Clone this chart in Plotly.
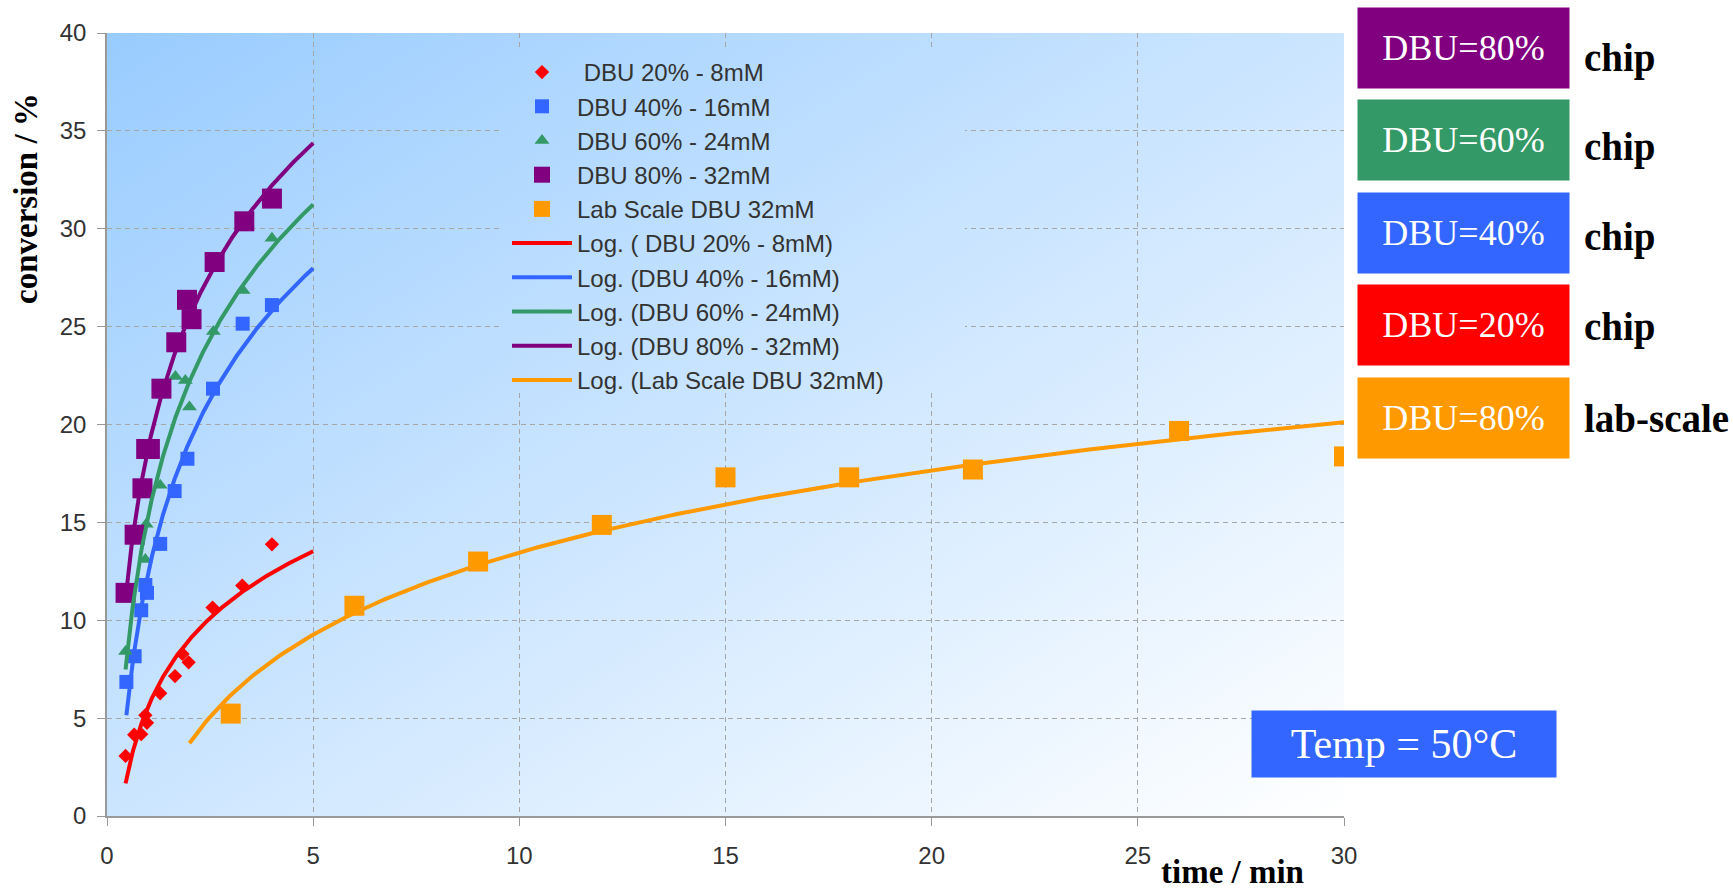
import base64
import numpy as np
import plotly.graph_objects as go

# ---- measured data: residence time (min) vs conversion (%) ----
t_dbu20 = [0.45, 0.66, 0.83, 0.93, 0.97, 1.29, 1.65, 1.83, 1.98, 2.56, 3.28, 4.0]
c_dbu20 = [3.07, 4.15, 4.18, 5.15, 4.76, 6.27, 7.15, 8.28, 7.85, 10.65, 11.77, 13.88]

t_dbu40 = [0.47, 0.67, 0.83, 0.93, 0.97, 1.29, 1.64, 1.95, 2.57, 3.29, 4.0]
c_dbu40 = [6.85, 8.16, 10.51, 11.8, 11.4, 13.9, 16.6, 18.25, 21.83, 25.15, 26.1]

t_dbu60 = [0.45, 0.93, 0.95, 1.29, 1.66, 1.90, 2.0, 2.58, 3.30, 4.0]
c_dbu60 = [8.4, 13.1, 14.9, 16.9, 22.45, 22.25, 20.9, 24.75, 26.84, 29.52]

t_dbu80 = [0.45, 0.67, 0.86, 0.95, 1.04, 1.32, 1.68, 1.94, 2.05, 2.61, 3.33, 4.0]
c_dbu80 = [11.4, 14.37, 16.74, 18.75, 18.75, 21.83, 24.2, 26.37, 25.38, 28.3, 30.38, 31.54]

t_lab = [3, 6, 9, 12, 15, 18, 21, 26, 30]
c_lab = [5.23, 10.74, 13.0, 14.87, 17.3, 17.3, 17.7, 19.67, 18.37]

series_names = ["\u00a0DBU 20% - 8mM", "DBU 40% - 16mM", "DBU 60% - 24mM",
                "DBU 80% - 32mM", "Lab Scale DBU 32mM"]
trend_names = ["Log. ( DBU 20% - 8mM)", "Log. (DBU 40% - 16mM)", "Log. (DBU 60% - 24mM)",
               "Log. (DBU 80% - 32mM)", "Log. (Lab Scale DBU 32mM)"]
# trendline forecast (forward, backward) in minutes
forecasts = [(1.0, 0.0), (1.0, 0.0), (1.0, 0.0), (1.0, 0.0), (0.0, 1.0)]

box_labels = ["DBU=80%", "DBU=60%", "DBU=40%", "DBU=20%", "DBU=80%"]
box_notes = ["chip", "chip", "chip", "chip", "lab-scale"]

x_ticks = [0, 5, 10, 15, 20, 25, 30]
y_ticks = [0, 5, 10, 15, 20, 25, 30, 35, 40]

# ---- styling ----
colors = ["#FF0000", "#3366FF", "#339966", "#800080", "#FF9900"]
symbols = ["diamond", "square", "triangle-up", "square", "square"]
sizes = [11, 14, 13, 20, 20]
box_colors = ["#800080", "#339966", "#3366FF", "#FF0000", "#FF9900"]

W, H = 1733, 892
L, R, T, B = 107, 389, 33, 76
PW, PH = W - L - R, H - T - B


def px(xp):
    return (xp - L) / PW


def py(yp):
    return (H - B - yp) / PH


SANS = "Arial, Liberation Sans, sans-serif"
SERIF = "Times New Roman, Liberation Serif, serif"

datasets = [(t_dbu20, c_dbu20), (t_dbu40, c_dbu40), (t_dbu60, c_dbu60),
            (t_dbu80, c_dbu80), (t_lab, c_lab)]

fig = go.Figure()

for (t, c), name, col, sym, sz in zip(datasets, series_names, colors, symbols, sizes):
    fig.add_trace(go.Scatter(
        x=t, y=c, mode="markers", name=name,
        marker=dict(color=col, symbol=sym, size=sz, line=dict(width=0)),
    ))

# logarithmic least-squares trendlines  y = a ln(t) + b
for (t, c), name, col, (fwd, back) in zip(datasets, trend_names, colors, forecasts):
    a, b = np.polyfit(np.log(t), c, 1)
    tt = np.linspace(min(t) - back, max(t) + fwd, 300)
    fig.add_trace(go.Scatter(
        x=tt, y=a * np.log(tt) + b, mode="lines", name=name,
        line=dict(color=col, width=4), hoverinfo="skip",
    ))

# diagonal gradient plot background (plus a copy clipped to the legend box)
leg_x0, leg_y0, leg_x1, leg_y1 = 507, 50, 965, 395


def gradient_svg(clip=None):
    clip_def, clip_use = "", ""
    if clip:
        cx, cy, cw, ch = clip
        clip_def = f'<clipPath id="c"><rect x="{cx}" y="{cy}" width="{cw}" height="{ch}"/></clipPath>'
        clip_use = ' clip-path="url(#c)"'
    svg = (f'<svg xmlns="http://www.w3.org/2000/svg" width="{PW}" height="{PH}" '
           f'viewBox="0 0 {PW} {PH}" preserveAspectRatio="none"><defs>'
           '<linearGradient id="g" x1="0" y1="0" x2="1" y2="1">'
           '<stop offset="0" stop-color="#99CCFF"/><stop offset="1" stop-color="#FFFFFF"/>'
           f'</linearGradient>{clip_def}</defs>'
           f'<rect width="{PW}" height="{PH}" fill="url(#g)"{clip_use}/></svg>')
    return "data:image/svg+xml;base64," + base64.b64encode(svg.encode()).decode()


images = [
    dict(source=gradient_svg(), xref="paper", yref="paper", x=0, y=1, sizex=1, sizey=1,
         xanchor="left", yanchor="top", sizing="stretch", layer="below"),
    dict(source=gradient_svg((leg_x0 - L - 4, leg_y0 - T - 2, leg_x1 - leg_x0 + 4, leg_y1 - leg_y0)),
         xref="paper", yref="paper", x=0, y=1, sizex=1, sizey=1,
         xanchor="left", yanchor="top", sizing="stretch", layer="above"),
]

annotations = []
box_centers_y = [50, 142, 234.5, 327, 420]
note_centers_y = [58, 147, 237.5, 327, 418]
for lab, note, bc, cy, ny in zip(box_labels, box_notes, box_colors, box_centers_y, note_centers_y):
    annotations.append(dict(
        text=lab, xref="paper", yref="paper", x=px(1463.5), y=py(cy - 2),
        xanchor="center", yanchor="middle", showarrow=False,
        width=211, height=80, borderpad=0, bgcolor=bc,
        font=dict(family=SERIF, size=36, color="white"),
    ))
    annotations.append(dict(
        text=note, xref="paper", yref="paper", x=px(1582), y=py(ny),
        xanchor="left", yanchor="middle", showarrow=False,
        font=dict(family=SERIF, size=39, color="black", weight="bold"),
    ))

annotations.append(dict(
    text="Temp = 50°C", xref="paper", yref="paper", x=px(1404), y=py(744),
    xanchor="center", yanchor="middle", showarrow=False,
    width=304, height=66, borderpad=0, bgcolor="#3366FF",
    font=dict(family=SERIF, size=42, color="white"),
))
annotations.append(dict(
    text="conversion / %", xref="paper", yref="paper", x=px(26), y=py(199),
    xanchor="center", yanchor="middle", showarrow=False, textangle=-90,
    font=dict(family=SERIF, size=33, color="black", weight="bold"),
))
annotations.append(dict(
    text="time / min", xref="paper", yref="paper", x=px(1232), y=py(872),
    xanchor="center", yanchor="middle", showarrow=False,
    font=dict(family=SERIF, size=33, color="black", weight="bold"),
))

axis_common = dict(
    showline=True, linecolor="#999999", linewidth=1.5,
    ticks="outside", ticklen=8, tickcolor="#999999", tickwidth=1,
    showgrid=True, gridcolor="#A6A6A6", gridwidth=1, griddash="5px,4px",
    zeroline=False, tickfont=dict(family=SANS, size=24, color="#333333"),
)

fig.update_layout(
    width=W, height=H, margin=dict(l=L, r=R, t=T, b=B),
    paper_bgcolor="white", plot_bgcolor="rgba(0,0,0,0)",
    xaxis=dict(range=[0, 30], tickvals=x_ticks, ticklabelstandoff=9, **axis_common),
    yaxis=dict(range=[0, 40], tickvals=y_ticks, ticklabelstandoff=6, **axis_common),
    legend=dict(x=px(leg_x0), y=py(leg_y0), xanchor="left", yanchor="top",
                bgcolor="rgba(0,0,0,0)", font=dict(family=SANS, size=24, color="#333333"),
                itemwidth=60, tracegroupgap=0),
    images=images, annotations=annotations, showlegend=True,
)

fig.write_html("out.html", config={"displayModeBar": False},
               post_script="document.body.style.margin='0';")
